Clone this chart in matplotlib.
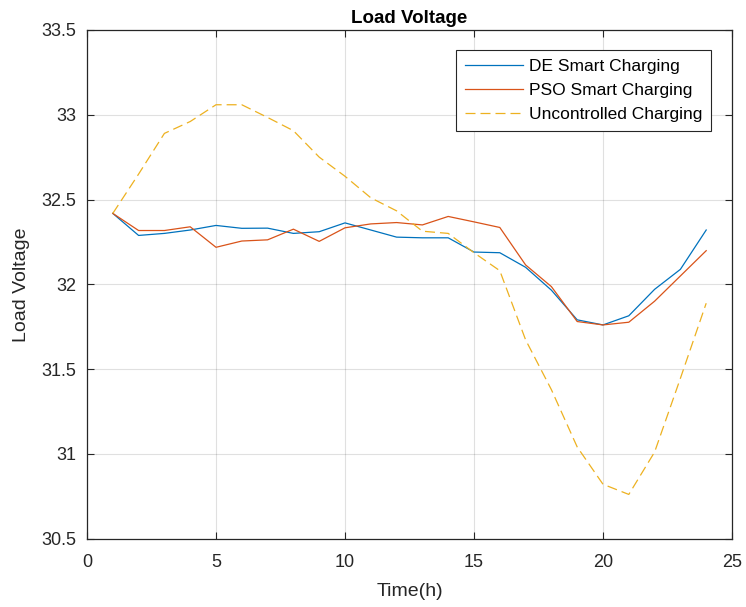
import matplotlib
matplotlib.use("Agg")
import matplotlib.pyplot as plt

plt.rcParams['font.family'] = ['Liberation Sans', 'DejaVu Sans']

time_h = list(range(1, 25))
de_smart = [32.418, 32.288, 32.30, 32.32, 32.347, 32.33, 32.331, 32.30, 32.31, 32.362,
            32.32, 32.278, 32.274, 32.274, 32.19, 32.186, 32.10, 31.965, 31.79, 31.76,
            31.814, 31.97, 32.088, 32.32]
pso_smart = [32.418, 32.317, 32.317, 32.339, 32.218, 32.255, 32.262, 32.325, 32.253, 32.333,
             32.356, 32.364, 32.35, 32.40, 32.368, 32.335, 32.114, 31.986, 31.78, 31.76,
             31.776, 31.90, 32.049, 32.198]
uncontrolled = [32.418, 32.65, 32.89, 32.96, 33.059, 33.059, 32.984, 32.906, 32.75, 32.637,
                32.51, 32.433, 32.313, 32.30, 32.186, 32.08, 31.672, 31.378, 31.04, 30.82,
                30.76, 31.01, 31.445, 31.888]

xticks = [0, 5, 10, 15, 20, 25]
yticks = [30.5, 31, 31.5, 32, 32.5, 33, 33.5]

fig = plt.figure(figsize=(7.46, 6.07), dpi=100)
ax = fig.add_axes([87/746, 1 - 538.5/607, (732 - 87)/746, (538.5 - 30)/607])

ax.plot(time_h, de_smart, color='#0072BD', lw=0.9, label='DE Smart Charging')
ax.plot(time_h, pso_smart, color='#D95319', lw=0.9, label='PSO Smart Charging')
ax.plot(time_h, uncontrolled, color='#EDB120', lw=0.9, ls=(0, (8, 4)), label='Uncontrolled Charging')

ax.set_xlim(0, 25)
ax.set_ylim(30.5, 33.5)
ax.set_xticks(xticks)
ax.set_yticks(yticks)
ax.set_yticklabels(['30.5', '31', '31.5', '32', '32.5', '33', '33.5'])
ax.grid(True, color='#000000', alpha=0.12, lw=0.8)
ax.tick_params(direction='in', top=True, right=True, labelsize=13, length=5, width=0.8, colors='#262626')
ax.tick_params(axis='y', pad=8)
ax.tick_params(axis='x', pad=11)
for s in ax.spines.values():
    s.set_color('#262626')
    s.set_linewidth(0.9)

ax.set_title('Load Voltage', fontsize=13.5, fontweight='bold', pad=5)
ax.set_xlabel('Time(h)', fontsize=14, color='#262626', labelpad=9)
ax.set_ylabel('Load Voltage', fontsize=14, color='#262626', labelpad=8)

leg = ax.legend(loc='upper right', bbox_to_anchor=(1 - 21/645, 1 - 20/508.5), fontsize=12.5,
                frameon=True, fancybox=False, edgecolor='#262626', framealpha=1,
                handlelength=3.35, borderaxespad=0, labelspacing=0.52, handletextpad=0.35,
                borderpad=0.5)
leg.get_frame().set_linewidth(0.8)

fig.savefig('out.png', dpi=100)
